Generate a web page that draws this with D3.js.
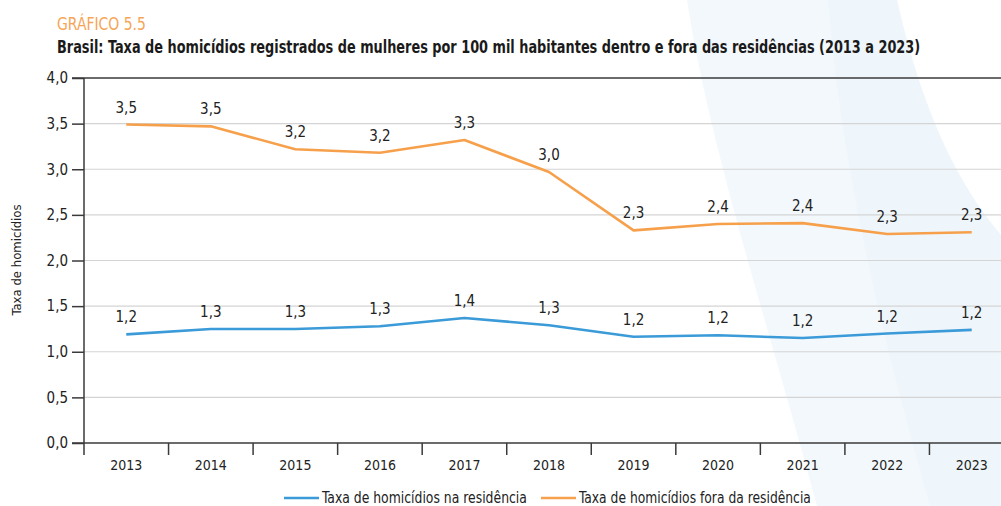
<!DOCTYPE html>
<html>
<head>
<meta charset="utf-8">
<script src="https://cdn.jsdelivr.net/npm/d3@7"></script>
<style>
  html, body { margin: 0; padding: 0; background: #fff; }
  svg { display: block; }
  text { font-family: "Liberation Sans Narrow", "DejaVu Sans Condensed", "Roboto", sans-serif; }
</style>
</head>
<body>
<svg id="chart" width="1001" height="506"></svg>
<script>
const years = ["2013","2014","2015","2016","2017","2018","2019","2020","2021","2022","2023"];
const inside = [1.19, 1.25, 1.25, 1.28, 1.37, 1.29, 1.165, 1.18, 1.15, 1.20, 1.24];
const outside = [3.49, 3.47, 3.22, 3.18, 3.32, 2.97, 2.33, 2.40, 2.41, 2.29, 2.31];
const insideLabels = ["1,2","1,3","1,3","1,3","1,4","1,3","1,2","1,2","1,2","1,2","1,2"];
const outsideLabels = ["3,5","3,5","3,2","3,2","3,3","3,0","2,3","2,4","2,4","2,3","2,3"];
const yTicks = [0, 0.5, 1, 1.5, 2, 2.5, 3, 3.5, 4];
const seriesNames = ["Taxa de homicídios na residência", "Taxa de homicídios fora da residência"];
const colors = ["#3b9ad8", "#f6a04b"];

const svg = d3.select("#chart");
const W = 1001, H = 506;

// text placed at (x0,y0), horizontally scaled so it spans target width
function fitText(x0, y0, str, target, size, attrs) {
  const g = svg.append("g").attr("transform", `translate(${x0},${y0})`);
  const t = g.append("text").attr("x", 0).attr("y", 0).attr("font-size", size).text(str);
  Object.entries(attrs || {}).forEach(([k, v]) => t.attr(k, v));
  const w = t.node().getComputedTextLength();
  if (w > 0) g.attr("transform", `translate(${x0},${y0}) scale(${(target / w).toFixed(4)},1)`);
  return t;
}

// background swoosh
svg.append("path")
  .attr("d", "M687,0 L897,0 C915,80 945,170 1001,235 L1001,506 L817,506 C770,330 710,150 687,0 Z")
  .attr("fill", "#f3f8fc");
svg.append("path")
  .attr("d", "M828,0 L897,0 C915,80 945,170 1001,235 L1001,506 L930,506 C880,330 840,160 828,0 Z")
  .attr("fill", "#eff6fb");

const x = d3.scaleBand().domain(years).range([84, 1014]).padding(0);
const y = d3.scaleLinear().domain([0, 4]).range([443, 78]);

// titles
fitText(57, 30, "GRÁFICO 5.5", 89, 17, {fill: "#f6a556"});
fitText(57, 53, "Brasil: Taxa de homicídios registrados de mulheres por 100 mil habitantes dentro e fora das residências (2013 a 2023)", 864, 17, {fill: "#1a1a1a", "font-weight": "bold"});

// gridlines
svg.append("g").selectAll("line").data(yTicks.filter(d => d > 0 && d < 4)).join("line")
  .attr("x1", 84).attr("x2", W).attr("y1", d => y(d)).attr("y2", d => y(d))
  .attr("stroke", "#d4d4d4").attr("stroke-width", 1.2);
// top line at 4.0
svg.append("line").attr("x1", 72).attr("x2", W).attr("y1", y(4)).attr("y2", y(4))
  .attr("stroke", "#3a3a3a").attr("stroke-width", 1.5);

// y axis
const yAxis = d3.axisLeft(y).tickValues(yTicks).tickSize(12).tickPadding(4)
  .tickFormat(d => d3.format(".1f")(d).replace(".", ","));
const gy = svg.append("g").attr("transform", "translate(84,0)").call(yAxis);
gy.select(".domain").remove();
gy.selectAll(".tick line").attr("stroke", "#3a3a3a").attr("stroke-width", 1.5);
gy.selectAll(".tick text").attr("font-size", 15).attr("fill", "#222")
  .attr("font-family", "Liberation Sans Narrow, DejaVu Sans Condensed, sans-serif");
svg.append("line").attr("x1", 84).attr("x2", 84).attr("y1", y(4)).attr("y2", 455)
  .attr("stroke", "#3a3a3a").attr("stroke-width", 1.5);

// x axis
svg.append("line").attr("x1", 72).attr("x2", W).attr("y1", y(0)).attr("y2", y(0))
  .attr("stroke", "#3a3a3a").attr("stroke-width", 1.5);
const xAxis = d3.axisBottom(x).tickSize(0).tickPadding(17);
const gx = svg.append("g").attr("transform", `translate(0,${y(0)})`).call(xAxis);
gx.select(".domain").remove();
gx.selectAll(".tick text").attr("font-size", 14).attr("fill", "#222")
  .attr("font-family", "Liberation Sans Narrow, DejaVu Sans Condensed, sans-serif");
svg.append("g").selectAll("line").data(years.slice(1)).join("line")
  .attr("x1", d => x(d)).attr("x2", d => x(d)).attr("y1", y(0)).attr("y2", y(0) + 12)
  .attr("stroke", "#3a3a3a").attr("stroke-width", 1.5);

// y label
svg.append("text").attr("transform", "translate(21,260) rotate(-90)")
  .attr("text-anchor", "middle").attr("font-size", 13).attr("fill", "#222")
  .text("Taxa de homicídios");

// lines
const line = d3.line().x((d, i) => x(years[i]) + x.bandwidth() / 2).y(d => y(d));
[[inside, insideLabels], [outside, outsideLabels]].forEach(([vals, labs], k) => {
  svg.append("path").datum(vals).attr("d", line)
    .attr("fill", "none").attr("stroke", colors[k]).attr("stroke-width", 2.6)
    .attr("stroke-linejoin", "round");
  svg.append("g").selectAll("text").data(vals).join("text")
    .attr("x", (d, i) => x(years[i]) + x.bandwidth() / 2)
    .attr("y", d => y(d) - 12)
    .attr("text-anchor", "middle").attr("font-size", 15).attr("fill", "#222")
    .text((d, i) => labs[i]);
});

// legend
const legendItems = [{x: 284, w: 205, name: seriesNames[0], c: colors[0]}, {x: 541, w: 232, name: seriesNames[1], c: colors[1]}];
legendItems.forEach(it => {
  svg.append("line").attr("x1", it.x).attr("x2", it.x + 35).attr("y1", 498).attr("y2", 498)
    .attr("stroke", it.c).attr("stroke-width", 2.6);
  fitText(it.x + 38, 503, it.name, it.w, 15, {fill: "#222"});
});
</script>
</body>
</html>
